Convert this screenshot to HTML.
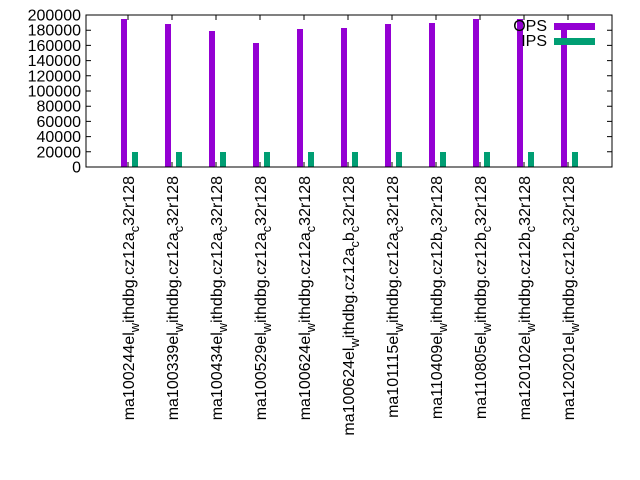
<!DOCTYPE html>
<html><head><style>html,body{margin:0;padding:0;background:#fff;}svg{display:block;}</style></head>
<body>
<svg width="640" height="480" xmlns="http://www.w3.org/2000/svg" font-family="Liberation Sans, sans-serif" font-size="16">
<rect width="640" height="480" fill="#fff"/>
<g id="bars">
<rect x="121" y="19" width="6" height="148" fill="#9400d3"/>
<rect x="165" y="24" width="6" height="143" fill="#9400d3"/>
<rect x="209" y="31" width="6" height="136" fill="#9400d3"/>
<rect x="253" y="43" width="6" height="124" fill="#9400d3"/>
<rect x="297" y="29" width="6" height="138" fill="#9400d3"/>
<rect x="341" y="28" width="6" height="139" fill="#9400d3"/>
<rect x="385" y="24" width="6" height="143" fill="#9400d3"/>
<rect x="429" y="23" width="6" height="144" fill="#9400d3"/>
<rect x="473" y="19" width="6" height="148" fill="#9400d3"/>
<rect x="517" y="19" width="6" height="148" fill="#9400d3"/>
<rect x="561" y="26" width="6" height="141" fill="#9400d3"/>
<g fill="#009e73">
<rect x="132" y="152" width="6" height="15"/><rect x="176" y="152" width="6" height="15"/><rect x="220" y="152" width="6" height="15"/><rect x="264" y="152" width="6" height="15"/><rect x="308" y="152" width="6" height="15"/><rect x="352" y="152" width="6" height="15"/><rect x="396" y="152" width="6" height="15"/><rect x="440" y="152" width="6" height="15"/><rect x="484" y="152" width="6" height="15"/><rect x="528" y="152" width="6" height="15"/><rect x="572" y="152" width="6" height="15"/>
</g>
</g>
<text x="547" y="31" text-anchor="end">OPS</text>
<rect x="554" y="23" width="41" height="7" fill="#9400d3"/>
<text x="547" y="46" text-anchor="end">IPS</text>
<rect x="554" y="38" width="41" height="7" fill="#009e73"/>
<rect x="86" y="15" width="526" height="152" fill="none" stroke="#000" stroke-width="1"/>
<g stroke="#000" stroke-width="1">
<path d="M86 167h5M86 151.8h5M86 136.6h5M86 121.4h5M86 106.2h5M86 91h5M86 75.8h5M86 60.6h5M86 45.4h5M86 30.2h5M86 15h5"/>
<path d="M612 151.8h-5M612 136.6h-5M612 121.4h-5M612 106.2h-5M612 91h-5M612 75.8h-5M612 60.6h-5M612 45.4h-5M612 30.2h-5"/>
<path d="M128 167v-5M172 167v-5M216 167v-5M260 167v-5M304 167v-5M348 167v-5M392 167v-5M436 167v-5M480 167v-5M524 167v-5M568 167v-5"/>
<path d="M128 15v5M172 15v5M216 15v5M260 15v5M304 15v5M348 15v5M392 15v5M436 15v5M480 15v5M524 15v5M568 15v5"/>
</g>
<g text-anchor="end">
<text x="81" y="172.5">0</text><text x="81" y="157.3">20000</text><text x="81" y="142.1">40000</text><text x="81" y="126.9">60000</text><text x="81" y="111.7">80000</text><text x="81" y="96.5">100000</text><text x="81" y="81.3">120000</text><text x="81" y="66.1">140000</text><text x="81" y="50.9">160000</text><text x="81" y="35.7">180000</text><text x="81" y="20.5">200000</text>
</g>
<g text-anchor="end">
<text transform="translate(134,176) rotate(-90)">ma100244el<tspan font-size="12.8" dy="5">w</tspan><tspan dy="-5">ithdbg.cz12a</tspan><tspan font-size="12.8" dy="5">c</tspan><tspan dy="-5">32r128</tspan></text>
<text transform="translate(178,176) rotate(-90)">ma100339el<tspan font-size="12.8" dy="5">w</tspan><tspan dy="-5">ithdbg.cz12a</tspan><tspan font-size="12.8" dy="5">c</tspan><tspan dy="-5">32r128</tspan></text>
<text transform="translate(222,176) rotate(-90)">ma100434el<tspan font-size="12.8" dy="5">w</tspan><tspan dy="-5">ithdbg.cz12a</tspan><tspan font-size="12.8" dy="5">c</tspan><tspan dy="-5">32r128</tspan></text>
<text transform="translate(266,176) rotate(-90)">ma100529el<tspan font-size="12.8" dy="5">w</tspan><tspan dy="-5">ithdbg.cz12a</tspan><tspan font-size="12.8" dy="5">c</tspan><tspan dy="-5">32r128</tspan></text>
<text transform="translate(310,176) rotate(-90)">ma100624el<tspan font-size="12.8" dy="5">w</tspan><tspan dy="-5">ithdbg.cz12a</tspan><tspan font-size="12.8" dy="5">c</tspan><tspan dy="-5">32r128</tspan></text>
<text transform="translate(354,176) rotate(-90)">ma100624el<tspan font-size="12.8" dy="5">w</tspan><tspan dy="-5">ithdbg.cz12a</tspan><tspan font-size="12.8" dy="5">c</tspan><tspan dy="-5">b</tspan><tspan font-size="12.8" dy="5">c</tspan><tspan dy="-5">32r128</tspan></text>
<text transform="translate(398,176) rotate(-90)">ma101115el<tspan font-size="12.8" dy="5">w</tspan><tspan dy="-5">ithdbg.cz12a</tspan><tspan font-size="12.8" dy="5">c</tspan><tspan dy="-5">32r128</tspan></text>
<text transform="translate(442,176) rotate(-90)">ma110409el<tspan font-size="12.8" dy="5">w</tspan><tspan dy="-5">ithdbg.cz12b</tspan><tspan font-size="12.8" dy="5">c</tspan><tspan dy="-5">32r128</tspan></text>
<text transform="translate(486,176) rotate(-90)">ma110805el<tspan font-size="12.8" dy="5">w</tspan><tspan dy="-5">ithdbg.cz12b</tspan><tspan font-size="12.8" dy="5">c</tspan><tspan dy="-5">32r128</tspan></text>
<text transform="translate(530,176) rotate(-90)">ma120102el<tspan font-size="12.8" dy="5">w</tspan><tspan dy="-5">ithdbg.cz12b</tspan><tspan font-size="12.8" dy="5">c</tspan><tspan dy="-5">32r128</tspan></text>
<text transform="translate(574,176) rotate(-90)">ma120201el<tspan font-size="12.8" dy="5">w</tspan><tspan dy="-5">ithdbg.cz12b</tspan><tspan font-size="12.8" dy="5">c</tspan><tspan dy="-5">32r128</tspan></text>
</g>
</svg>
</body></html>
